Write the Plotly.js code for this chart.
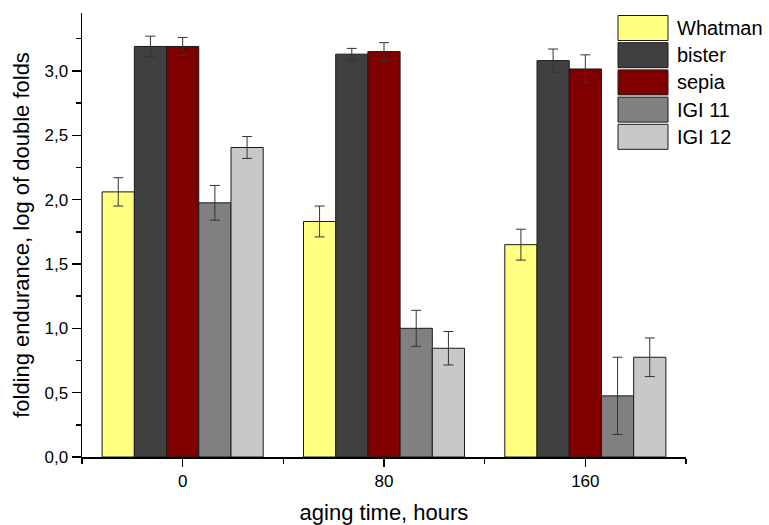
<!DOCTYPE html>
<html>
<head>
<meta charset="utf-8">
<script src="https://cdn.plot.ly/plotly-3.0.1.min.js"></script>
<style>html,body{margin:0;padding:0;background:#fff;}#chart{width:769px;height:525px;}</style>
</head>
<body>
<div id="chart"></div>
<script>
// Data
var categories = ['0', '80', '160'];
var seriesNames = ['Whatman', 'bister', 'sepia', 'IGI 11', 'IGI 12'];
var whatman = [2.06, 1.83, 1.65];
var whatmanErr = [0.11, 0.12, 0.12];
var bister = [3.19, 3.13, 3.08];
var bisterErr = [0.08, 0.045, 0.09];
var sepia = [3.19, 3.15, 3.015];
var sepiaErr = [0.07, 0.07, 0.11];
var igi11 = [1.975, 1.0, 0.475];
var igi11Err = [0.135, 0.14, 0.30];
var igi12 = [2.405, 0.845, 0.775];
var igi12Err = [0.085, 0.13, 0.15];
var colors = ['#FFFF80', '#404040', '#800000', '#808080', '#C8C8C8'];

var values = [whatman, bister, sepia, igi11, igi12];
var errs = [whatmanErr, bisterErr, sepiaErr, igi11Err, igi12Err];
var xpos = categories.map(function (c, i) { return i; });

var traces = values.map(function (v, k) {
  return {
    type: 'bar', name: seriesNames[k], x: xpos, y: v,
    marker: {color: colors[k], line: {color: '#1a1a1a', width: 1}},
    error_y: {type: 'data', array: errs[k], visible: true, color: '#333', thickness: 1, width: 5},
    showlegend: false, hoverinfo: 'y'
  };
});

// geometry of plot area (for custom legend swatches)
var W = 769, H = 525, mL = 82, mR = 83, mT = 13, mB = 68;
var pw = W - mL - mR, ph = H - mT - mB;
function px(x) { return (x - mL) / pw; }
function py(y) { return (H - mB - y) / ph; }

var shapes = [], annotations = [];
seriesNames.forEach(function (n, k) {
  var top = 15.5 + k * 27.2;
  shapes.push({type: 'rect', xref: 'paper', yref: 'paper',
    x0: px(618), x1: px(668), y0: py(top + 25), y1: py(top),
    fillcolor: colors[k], line: {color: '#1a1a1a', width: 1}});
  annotations.push({xref: 'paper', yref: 'paper', x: px(675), y: py(top + 12.5),
    xanchor: 'left', yanchor: 'middle', text: n, showarrow: false,
    font: {size: 20, color: '#000', family: 'Liberation Sans, Arial, sans-serif'}});
});

var layout = {
  width: W, height: H,
  margin: {l: mL, r: mR, t: mT, b: mB},
  paper_bgcolor: '#fff', plot_bgcolor: '#fff',
  separators: ', ',
  bargap: 0.2, bargroupgap: 0,
  barmode: 'group',
  font: {family: 'Liberation Sans, Arial, sans-serif', color: '#000', size: 17},
  xaxis: {
    range: [-0.5, 2.5], tickmode: 'array', tickvals: xpos, ticktext: categories,
    ticks: 'outside', ticklen: 8, tickwidth: 1.5, tickcolor: '#000',
    showline: true, linecolor: '#000', linewidth: 1.5, showgrid: false, zeroline: false,
    tickfont: {size: 17},
    minor: {tick0: 0.5, dtick: 1, ticks: 'outside', ticklen: 5, tickwidth: 1.5, tickcolor: '#000', showgrid: false},
    title: {text: 'aging time, hours', font: {size: 22}, standoff: 23}
  },
  yaxis: {
    range: [0, 3.45], dtick: 0.5, tick0: 0, tickformat: '.1f',
    ticks: 'outside', ticklen: 9, tickwidth: 1.5, tickcolor: '#000',
    showline: true, linecolor: '#000', linewidth: 1.5, showgrid: false, zeroline: false,
    tickfont: {size: 17},
    minor: {dtick: 0.25, ticks: 'outside', ticklen: 5, tickwidth: 1.5, tickcolor: '#000', showgrid: false},
    title: {text: 'folding endurance, log of double folds', font: {size: 22}, standoff: 9}
  },
  shapes: shapes, annotations: annotations,
  showlegend: false
};

Plotly.newPlot('chart', traces, layout, {displayModeBar: false, staticPlot: true});
</script>
</body>
</html>
